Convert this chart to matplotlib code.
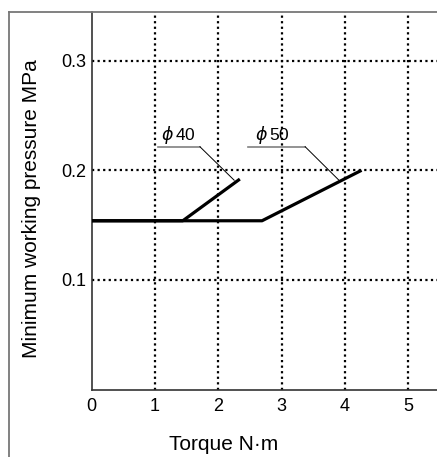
import matplotlib
matplotlib.use("Agg")
import matplotlib.pyplot as plt
from matplotlib.lines import Line2D

plt.rcParams['font.family'] = ['Liberation Sans', 'DejaVu Sans']
plt.rcParams['mathtext.fontset'] = 'dejavusans'

# ---- data ----
x_ticks = [0, 1, 2, 3, 4, 5]
y_ticks = [0.1, 0.2, 0.3]
y_tick_labels = ['0.1', '0.2', '0.3']

phi40_torque = [0.0, 1.44, 2.34]
phi40_pressure = [0.154, 0.154, 0.192]
phi50_torque = [0.0, 2.69, 4.26]
phi50_pressure = [0.154, 0.154, 0.200]

series_labels = [r'$\phi\,$40', r'$\phi\,$50']

W, H = 437, 457
fig = plt.figure(figsize=(W / 100, H / 100), dpi=100)

ax_left = 91.5 / W
ax_bottom = 1 - 389.7 / H
ax_top = 1 - 12 / H
ax = fig.add_axes([ax_left, ax_bottom, 1.0 - ax_left, ax_top - ax_bottom])

ax.set_xlim(0, 5.45)
ax.set_ylim(0, 0.3443)

# grid
for xv in x_ticks[1:]:
    ax.axvline(xv, color='black', lw=1.6, ls=(0, (1, 1.5)), zorder=1)
for yv in y_ticks:
    ax.axhline(yv, color='black', lw=1.6, ls=(0, (1, 1.5)), zorder=1)

# data lines
ax.plot(phi40_torque, phi40_pressure, color='black', lw=2.3,
        solid_capstyle='butt', zorder=3)
ax.plot(phi50_torque, phi50_pressure, color='black', lw=2.3,
        solid_capstyle='butt', zorder=3)

# labels with leader lines
ann = [
    # text x, text y, underline x0, x1, underline y, target x, target y
    (1.10, 0.2275, 1.05, 1.71, 0.2215, 2.25, 0.191),
    (2.58, 0.2275, 2.47, 3.37, 0.2215, 3.92, 0.190),
]
for lab, (tx, ty, ux0, ux1, uy, px, py) in zip(series_labels, ann):
    ax.text(tx, ty, lab, fontsize=12.5, ha='left', va='baseline', zorder=4)
    ax.plot([ux0, ux1], [uy, uy], color='#808080', lw=1.2, zorder=2)
    ax.plot([ux1, px], [uy, py], color='black', lw=0.7, zorder=2)

ax.set_xticks(x_ticks)
ax.set_xticklabels([str(v) for v in x_ticks])
ax.set_yticks(y_ticks)
ax.set_yticklabels(y_tick_labels)
ax.tick_params(axis='both', length=0, labelsize=13, colors='black')
ax.tick_params(axis='x', pad=6)
ax.tick_params(axis='y', pad=4)

for s in ['top', 'right']:
    ax.spines[s].set_visible(False)
for s in ['left', 'bottom']:
    ax.spines[s].set_color('#333333')
    ax.spines[s].set_linewidth(1.2)

fig.text(223.5 / W, 1 - 450 / H, 'Torque N·m', fontsize=15,
         ha='center', va='baseline')
fig.text(31.5 / W, 1 - 209 / H, 'Minimum working pressure MPa', fontsize=15,
         ha='center', va='center', rotation=90)

# outer frame
fig.add_artist(Line2D([8.5 / W, 8.5 / W], [0, 1 - 12 / H],
                      transform=fig.transFigure, color='#777777', lw=1.3))
fig.add_artist(Line2D([8.5 / W, 1.0], [1 - 12 / H, 1 - 12 / H],
                      transform=fig.transFigure, color='#777777', lw=1.3))

fig.savefig('out.png', dpi=100)
